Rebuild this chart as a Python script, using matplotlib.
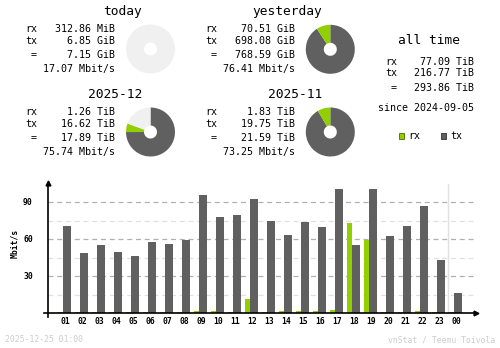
import matplotlib
matplotlib.use("Agg")
import matplotlib.pyplot as plt
from matplotlib.patches import Rectangle

# ---------------- data ----------------
hours = ["01", "02", "03", "04", "05", "06", "07", "08", "09", "10", "11", "12",
         "13", "14", "15", "16", "17", "18", "19", "20", "21", "22", "23", "00"]
rx_rate = [0.8, 0.8, 0.8, 0.8, 0.8, 0.8, 0.8, 0.8, 1.6, 1.6, 0.8, 11.6,
           0.8, 1.6, 1.6, 1.6, 2.7, 73.2, 59.4, 0.8, 0.8, 1.6, 0.8, 0.8]
tx_rate = [70.8, 48.9, 55.4, 49.7, 46.5, 57.8, 56.2, 59.4, 95.9, 78.1, 79.7, 92.7,
           74.8, 63.5, 74.0, 70.0, 100.8, 55.4, 100.8, 62.7, 70.8, 87.0, 43.2, 16.5]
yticks = [30, 60, 90]
yticks_minor = [15, 45, 75]

periods = ["today", "yesterday", "2025-12", "2025-11"]
period_rx = ["312.86 MiB", "70.51 GiB", "1.26 TiB", "1.83 TiB"]
period_tx = ["6.85 GiB", "698.08 GiB", "16.62 TiB", "19.75 TiB"]
period_total = ["7.15 GiB", "768.59 GiB", "17.89 TiB", "21.59 TiB"]
period_rate = ["17.07 Mbit/s", "76.41 Mbit/s", "75.74 Mbit/s", "73.25 Mbit/s"]
pie_rx = [0.0, 70.51, 1.26, 1.83]
pie_tx = [0.0, 698.08, 16.62, 19.75]
pie_filled = [0.0, 1.0, 25 / 31, 1.0]

alltime_rx = "77.09 TiB"
alltime_tx = "216.77 TiB"
alltime_total = "293.86 TiB"
since = "since 2024-09-05"
stamp = "2025-12-25 01:00"
credit = "vnStat / Teemu Toivola"

# ---------------- style ----------------
C_RX = "#92cf00"
C_TX = "#606060"
C_BG = "#f0f0f0"
C_LINE = "#b0b0b0"
C_LINEL = "#e0e0e0"
C_FOOT = "#cccccc"
MONO = "DejaVu Sans Mono"

W, H = 500, 348
fig = plt.figure(figsize=(W / 100, H / 100), dpi=100)
fig.patch.set_facecolor("white")


def fx(x):
    return x / W


def fy(y):
    return 1 - y / H


def txt(x, y, s, ha="left", size=7.2, color="black", weight="normal"):
    fig.text(fx(x), fy(y), s, ha=ha, va="center", fontsize=size,
             family=MONO, color=color, weight=weight)


# ---------------- summary blocks ----------------
cols = [(25, 115, 142), (205, 295, 322)]
rows = [(11.7, 29.3, 41.3, 54.7, 69.0), (94.3, 112.0, 124.3, 137.7, 152.3)]
pie_centers = [(150.5, 49.0), (330.3, 49.3), (150.5, 132.0), (330.3, 132.0)]
R_OUT = 24.5
R_IN = 6.5

for k, name in enumerate(periods):
    col = cols[k % 2]
    row = rows[k // 2]
    lx, vx, tx_ = col
    txt(tx_, row[0], name, ha="right", size=9.3)
    txt(lx, row[1], "rx")
    txt(lx, row[2], "tx")
    txt(lx, row[3], " =")
    txt(vx, row[1], period_rx[k], ha="right")
    txt(vx, row[2], period_tx[k], ha="right")
    txt(vx, row[3], period_total[k], ha="right")
    txt(vx, row[4], period_rate[k], ha="right")

    cx, cy = pie_centers[k]
    pax = fig.add_axes([fx(cx - R_OUT), fy(cy + R_OUT), 2 * R_OUT / W, 2 * R_OUT / H])
    tot = pie_rx[k] + pie_tx[k]
    f = pie_filled[k]
    if tot > 0:
        vals = [pie_tx[k] / tot * f, pie_rx[k] / tot * f, 1 - f]
    else:
        vals = [0, 0, 1]
    vals = [max(v, 1e-9) for v in vals]
    pax.pie(vals, colors=[C_TX, C_RX, C_BG], startangle=90, counterclock=False,
            radius=1.0, wedgeprops=dict(width=1 - R_IN / R_OUT, linewidth=0))
    pax.set_xlim(-1, 1)
    pax.set_ylim(-1, 1)
    pax.set_aspect("auto")
    pax.axis("off")

# all time block
txt(428.8, 40.0, "all time", ha="center", size=9.3)
txt(385, 62.3, "rx")
txt(385, 72.7, "tx")
txt(385, 88.3, " =")
txt(474.3, 62.3, alltime_rx, ha="right")
txt(474.3, 72.7, alltime_tx, ha="right")
txt(474.3, 88.3, alltime_total, ha="right")
txt(474.3, 108.3, since, ha="right")

# legend
fig.patches.append(Rectangle((fx(398.5), fy(139)), 5.5 / W, 5.5 / H,
                             transform=fig.transFigure, facecolor=C_RX,
                             edgecolor="#4a6a00", linewidth=0.6))
fig.patches.append(Rectangle((fx(440.5), fy(139)), 5.5 / W, 5.5 / H,
                             transform=fig.transFigure, facecolor=C_TX,
                             edgecolor="#303030", linewidth=0.6))
txt(408.5, 136, "rx")
txt(450.5, 136, "tx")

# ---------------- bar chart ----------------
PX_PER_HOUR = 17.0
X0 = 65.0              # pixel of hour index 0 label
PX_PER_UNIT = 37.0 / 30.0
Y0 = 313.3             # pixel of value 0
left_px, right_px = 44.0, 478.0
top_px, bot_px = 181.7, 316.7
xl = ((left_px - X0) / PX_PER_HOUR, (right_px - X0) / PX_PER_HOUR)
yl = ((Y0 - bot_px) / PX_PER_UNIT, (Y0 - top_px) / PX_PER_UNIT)

ax = fig.add_axes([fx(left_px), fy(bot_px), (right_px - left_px) / W, (bot_px - top_px) / H])
ax.set_xlim(*xl)
ax.set_ylim(*yl)
ax.axis("off")

idx = list(range(len(hours)))
grid_end = (472.7 - X0) / PX_PER_HOUR
yaxis_x = (48.3 - X0) / PX_PER_HOUR
for v in yticks_minor:
    ax.plot([yaxis_x, grid_end], [v, v], color=C_LINEL, lw=0.9,
            dashes=(4, 3), zorder=1)
for v in yticks:
    ax.plot([yaxis_x, grid_end], [v, v], color=C_LINE, lw=0.9,
            dashes=(4, 3), zorder=1)
    ax.text(yaxis_x - 15.5 / PX_PER_HOUR, v, str(v), ha="right", va="center",
            fontsize=5.8, family=MONO, weight="bold")

# separator before current hour
sep_x = (len(hours) - 1.5)
ax.plot([sep_x, sep_x], [0, (Y0 - 184) / PX_PER_UNIT], color=C_LINEL, lw=1.0, zorder=1)

rx_w = 4.8 / PX_PER_HOUR
tx_w = 7.8 / PX_PER_HOUR
rx_c = [i - 4.5 / PX_PER_HOUR for i in idx]
tx_c = [i + 2.0 / PX_PER_HOUR for i in idx]
ax.bar(rx_c, rx_rate, width=rx_w, color=C_RX, linewidth=0, zorder=2)
ax.bar(tx_c, tx_rate, width=tx_w, color=C_TX, linewidth=0, zorder=3)

# axes lines with arrows
ax.plot([xl[0], xl[1] - 0.1], [0, 0], color="black", lw=1.2, clip_on=False, zorder=4)
ax.plot([yaxis_x, yaxis_x], [yl[0], yl[1] - 1.5], color="black", lw=1.2, clip_on=False, zorder=4)
ax.plot([xl[1] - 0.12], [0], marker=">", color="black", markersize=3.5, clip_on=False, zorder=5)
ax.plot([yaxis_x], [yl[1] - 1.3], marker="^", color="black", markersize=3.5, clip_on=False, zorder=5)

for i, h in zip(idx, hours):
    ax.text(i, (Y0 - 321.0) / PX_PER_UNIT, h, ha="center", va="center",
            fontsize=5.8, family=MONO, weight="bold")

fig.text(fx(14.3), fy(243), "Mbit/s", rotation=90, ha="center", va="center",
         fontsize=5.8, family=MONO, weight="bold")

# footer
txt(5, 340, stamp, size=5.9, color=C_FOOT)
txt(495, 340, credit, ha="right", size=5.9, color=C_FOOT)

fig.savefig("out.png", dpi=100, facecolor="white")
